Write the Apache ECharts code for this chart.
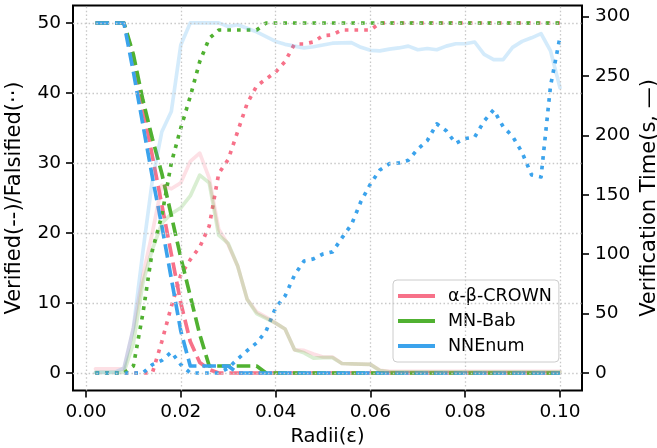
<!DOCTYPE html>
<html>
<head>
<meta charset="utf-8">
<script src="https://cdn.jsdelivr.net/npm/echarts@6/dist/echarts.min.js"></script>
<style>
  html, body { margin: 0; padding: 0; background: #ffffff; }
  #chart { width: 657px; height: 448px; }
</style>
</head>
<body>
<div id="chart"></div>
<script>
// Perturbation radii
const radii = [
  0.002, 0.004, 0.006, 0.008, 0.010, 0.012, 0.014, 0.016, 0.018, 0.020,
  0.022, 0.024, 0.026, 0.028, 0.030, 0.032, 0.034, 0.036, 0.038, 0.040,
  0.042, 0.044, 0.046, 0.048, 0.050, 0.052, 0.054, 0.056, 0.058, 0.060,
  0.062, 0.064, 0.066, 0.068, 0.070, 0.072, 0.074, 0.076, 0.078, 0.080,
  0.082, 0.084, 0.086, 0.088, 0.090, 0.092, 0.094, 0.096, 0.098, 0.100
];

// alpha-beta-CROWN
const abVerified = [
  50, 50, 50, 50, 45, 38, 31, 24, 17, 10,
  4.5, 1.5, 0.5, 0, 0, 0, 0, 0, 0, 0,
  0, 0, 0, 0, 0, 0, 0, 0, 0, 0,
  0, 0, 0, 0, 0, 0, 0, 0, 0, 0,
  0, 0, 0, 0, 0, 0, 0, 0, 0, 0
];
const abFalsified = [
  0, 0, 0, 0, 0, 0, 0, 4.5, 9.5, 14,
  16.2, 18, 21, 28.5, 30.5, 34.5, 38.5, 41, 42, 43,
  44.5, 47, 47, 47.3, 48.2, 48.3, 49, 49, 49, 49,
  50, 50, 50, 50, 50, 50, 50, 50, 50, 50,
  50, 50, 50, 50, 50, 50, 50, 50, 50, 50
];
const abTime = [
  3.5, 3.5, 3.5, 3.5, 38, 82, 118, 158, 155, 160,
  178, 185, 164, 121, 108, 90, 62, 51.5, 47, 42,
  37, 19.5, 19, 16, 13.5, 13.5, 8, 7.7, 7.5, 7.3,
  2.3, 1.5, 1.5, 1.5, 1.5, 1.5, 1.5, 1.5, 1.5, 1.5,
  1.5, 1.5, 1.5, 1.5, 1.5, 1.5, 1.5, 1.5, 1.5, 1.5
];

// MN-BaB
const mnVerified = [
  50, 50, 50, 50, 45.5, 39, 33.5, 28.5, 22.5, 16.5,
  11, 5.5, 1, 1, 1, 1, 1, 1, 0, 0,
  0, 0, 0, 0, 0, 0, 0, 0, 0, 0,
  0, 0, 0, 0, 0, 0, 0, 0, 0, 0,
  0, 0, 0, 0, 0, 0, 0, 0, 0, 0
];
const mnFalsified = [
  0, 0, 0, 0, 1, 8.5, 17.5, 22.5, 30, 35,
  39.5, 44.5, 47.8, 49, 49, 49, 49, 49, 50, 50,
  50, 50, 50, 50, 50, 50, 50, 50, 50, 50,
  50, 50, 50, 50, 50, 50, 50, 50, 50, 50,
  50, 50, 50, 50, 50, 50, 50, 50, 50, 50
];
const mnTime = [
  0.5, 0.5, 0.5, 0.5, 25, 76, 104, 126, 134, 139,
  149, 166.5, 160, 116, 109, 90, 62, 50, 46, 42,
  37, 19.5, 17, 12.5, 13, 13, 8, 7.7, 7.5, 7.3,
  2, 1, 1, 1, 1, 1, 1, 1, 1, 1,
  1, 1, 1, 1, 1, 1, 1, 1, 1, 1
];

// NNEnum
const nnVerified = [
  50, 50, 50, 50, 43, 35.5, 28, 21, 13.5, 6,
  1, 1, 1, 1, 1, 0, 0, 0, 0, 0,
  0, 0, 0, 0, 0, 0, 0, 0, 0, 0,
  0, 0, 0, 0, 0, 0, 0, 0, 0, 0,
  0, 0, 0, 0, 0, 0, 0, 0, 0, 0
];
const nnFalsified = [
  0, 0, 0, 0, 0, 0, 1.2, 1.8, 3, 1.2,
  0, 0, 0, 0, 0.7, 2, 3.2, 4.3, 6, 9.3,
  11, 14, 16, 16.3, 17, 17.3, 19.3, 21.2, 24.5, 27,
  29, 29.9, 30, 30.4, 32, 33.2, 35.6, 34.6, 32.8, 33.5,
  33.7, 36, 37.6, 35.2, 33.8, 31.5, 28.3, 28, 41, 48
];
const nnTime = [
  0.5, 0.5, 0.5, 4, 38, 102, 162, 203, 220, 276,
  294.6, 294.6, 294.6, 294.6, 291.5, 293, 290, 287, 283, 279,
  276.5, 275, 273.5, 274.5, 276, 277.5, 277.7, 278, 274, 271.5,
  271, 272.5, 273.5, 275, 272, 273, 272, 275, 277, 277,
  278.5, 268, 263.7, 263.7, 274, 279, 282, 285.5, 271, 240
];

// Axis ticks
const xTicks = [0.00, 0.02, 0.04, 0.06, 0.08, 0.10];
const countTicks = [0, 10, 20, 30, 40, 50];
const timeTicks = [0, 50, 100, 150, 200, 250, 300];

const toolNames = ['α-β-CROWN', 'MN-Bab', 'NNEnum'];
const toolColors = ['#f77189', '#50b131', '#3ba3ec'];

const FONT = 'DejaVu Sans';
const LW = 3.67;
const DASH = [13.6, 5.9];
const DOT = [3.67, 6.05];

function pairs(ys) {
  return radii.map((x, i) => [x, ys[i]]);
}

function countLine(ys, color, pattern) {
  return {
    type: 'line',
    xAxisIndex: 0,
    yAxisIndex: 0,
    data: pairs(ys),
    symbol: 'none',
    showSymbol: false,
    silent: true,
    animation: false,
    lineStyle: { color: color, width: LW, type: pattern, cap: 'butt', join: 'round' },
    itemStyle: { color: color }
  };
}

function timeLine(ys, color) {
  return {
    type: 'line',
    xAxisIndex: 0,
    yAxisIndex: 1,
    data: pairs(ys),
    symbol: 'none',
    showSymbol: false,
    silent: true,
    animation: false,
    lineStyle: { color: color, width: LW, opacity: 0.22, join: 'round', cap: 'round' },
    itemStyle: { color: color }
  };
}

const gridLineStyle = { color: '#c8c8c8', width: 1.3, type: [1.5, 2.4] };

const series = [
  {
    // dotted grid drawn at the tick positions
    type: 'line',
    xAxisIndex: 0,
    yAxisIndex: 0,
    data: [],
    silent: true,
    animation: false,
    markLine: {
      silent: true,
      animation: false,
      symbol: ['none', 'none'],
      label: { show: false },
      lineStyle: gridLineStyle,
      emphasis: { disabled: true },
      data: xTicks.map(v => ({ xAxis: v })).concat(countTicks.map(v => ({ yAxis: v })))
    }
  },
  countLine(abVerified, toolColors[0], DASH),
  countLine(abFalsified, toolColors[0], DOT),
  countLine(mnVerified, toolColors[1], DASH),
  countLine(mnFalsified, toolColors[1], DOT),
  countLine(nnVerified, toolColors[2], DASH),
  countLine(nnFalsified, toolColors[2], DOT),
  timeLine(abTime, toolColors[0]),
  timeLine(mnTime, toolColors[1]),
  timeLine(nnTime, toolColors[2])
];

// legend entries
toolNames.forEach((name, k) => {
  series.push({
    type: 'line',
    name: name,
    data: [],
    color: toolColors[k],
    itemStyle: { color: toolColors[k] },
    lineStyle: { color: toolColors[k] },
    animation: false
  });
});

const tickText = { fontFamily: FONT, fontSize: 18.5, color: '#000000' };
const nameText = { fontFamily: FONT, fontSize: 21, color: '#000000' };
const xNameText = { fontFamily: FONT, fontSize: 19.5, color: '#000000' };

const chart = echarts.init(document.getElementById('chart'), null, { renderer: 'canvas' });
chart.setOption({
  animation: false,
  backgroundColor: '#ffffff',
  textStyle: { fontFamily: FONT },
  grid: {
    left: 73, right: 75, top: 5.5, bottom: 57.5,
    outerBoundsMode: 'none',
    containLabel: false,
    show: true,
    borderColor: '#000000',
    borderWidth: 2,
    backgroundColor: 'transparent'
  },
  legend: {
    show: true,
    orient: 'vertical',
    left: 393,
    top: 280,
    data: toolNames,
    icon: 'rect',
    itemWidth: 37,
    itemHeight: 4,
    itemGap: 5,
    selectedMode: false,
    padding: [6, 7, 6, 5],
    backgroundColor: 'rgba(255,255,255,0.8)',
    borderColor: '#cccccc',
    borderWidth: 1,
    borderRadius: 4,
    textStyle: { fontFamily: FONT, fontSize: 17.5, color: '#000000', lineHeight: 20, padding: [0, 0, 0, 8] }
  },
  xAxis: {
    type: 'value',
    min: -0.00274,
    max: 0.10464,
    name: 'Radii(ε)',
    nameLocation: 'middle',
    nameGap: 36,
    nameMoveOverlap: false,
    nameTextStyle: xNameText,
    axisLine: { show: false, onZero: false },
    axisTick: { show: true, customValues: xTicks, length: 7, inside: false, lineStyle: { color: '#000000', width: 1.6 } },
    axisLabel: { show: true, customValues: xTicks, margin: 12, formatter: v => v.toFixed(2), ...tickText },
    splitLine: { show: false }
  },
  yAxis: [
    {
      type: 'value',
      position: 'left',
      min: -2.5,
      max: 52.5,
      name: 'Verified(--)/Falsified(··)',
      nameLocation: 'middle',
      nameRotate: 90,
      nameGap: 48,
      nameMoveOverlap: false,
      nameTextStyle: nameText,
      axisLine: { show: false, onZero: false },
      axisTick: { show: true, customValues: countTicks, length: 7, inside: false, lineStyle: { color: '#000000', width: 1.6 } },
      axisLabel: { show: true, customValues: countTicks, margin: 12, ...tickText },
      splitLine: { show: false }
    },
    {
      type: 'value',
      position: 'right',
      min: -14.7,
      max: 309.2,
      name: 'Verification Time(s, —)',
      nameLocation: 'middle',
      nameRotate: 90,
      nameGap: 57,
      nameMoveOverlap: false,
      nameTextStyle: nameText,
      axisLine: { show: false, onZero: false },
      axisTick: { show: true, customValues: timeTicks, length: 7, inside: false, lineStyle: { color: '#000000', width: 1.6 } },
      axisLabel: { show: true, customValues: timeTicks, margin: 13, ...tickText },
      splitLine: { show: false }
    }
  ],
  series: series
});
</script>
</body>
</html>
